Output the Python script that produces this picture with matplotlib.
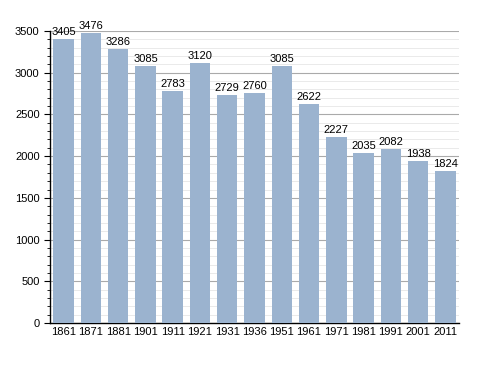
import numpy as np
import matplotlib.pyplot as plt
from matplotlib.ticker import MultipleLocator

plt.rcParams['font.family'] = ['Liberation Sans', 'DejaVu Sans']

years = ['1861', '1871', '1881', '1901', '1911', '1921', '1931', '1936',
         '1951', '1961', '1971', '1981', '1991', '2001', '2011']
population = [3405, 3476, 3286, 3085, 2783, 3120, 2729, 2760,
              3085, 2622, 2227, 2035, 2082, 1938, 1824]

fig = plt.figure(figsize=(4.88, 3.73), dpi=100)
ax = fig.add_axes([0.1025, 0.134, 0.838, 0.783])

x = np.arange(len(years))
ax.bar(x, population, width=0.75, color='#9bb3cf', zorder=3)

for xi, v in zip(x, population):
    ax.text(xi, v + 25, str(v), ha='center', va='bottom', fontsize=8, zorder=4)

ax.set_xlim(-0.5, len(years) - 0.5)
ax.set_ylim(0, 3500)
ax.set_xticks(x)
ax.set_xticklabels(years, fontsize=8)
ax.yaxis.set_major_locator(MultipleLocator(500))
ax.yaxis.set_minor_locator(MultipleLocator(100))
ax.tick_params(axis='y', labelsize=8, length=4, width=0.8)
ax.tick_params(axis='y', which='minor', length=2, width=0.6)
ax.tick_params(axis='x', length=0, pad=3)

ax.grid(axis='y', which='major', color='#aaaaaa', linewidth=0.8, zorder=0)
ax.grid(axis='y', which='minor', color='#e6e6e6', linewidth=0.6, zorder=0)
ax.set_axisbelow(True)

for s in ['top', 'right']:
    ax.spines[s].set_visible(False)
ax.spines['left'].set_linewidth(1.0)
ax.spines['bottom'].set_linewidth(1.0)

plt.savefig('out.png', dpi=100)
